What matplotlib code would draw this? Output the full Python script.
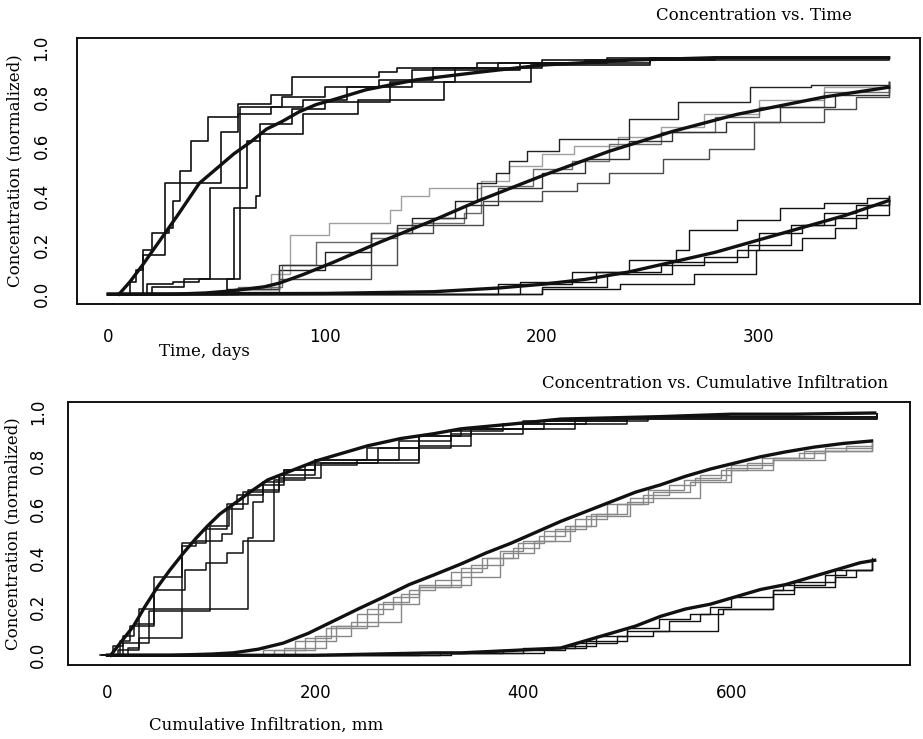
import matplotlib.pyplot as plt

# ---- top panel: concentration vs time (days) ----
# smooth model curves
time_fast_x = [5, 10, 16, 24, 32, 42, 50, 58, 66, 73, 80, 88, 96, 104, 119, 142, 170, 200, 240, 280, 320, 360]
time_fast_y = [0, 0.05, 0.12, 0.22, 0.32, 0.45, 0.51, 0.57, 0.62, 0.67, 0.70, 0.74, 0.77, 0.79, 0.83, 0.87, 0.90, 0.93, 0.95, 0.96, 0.96, 0.96]
time_mid_x = [0, 30, 45, 55, 65, 72, 79, 90, 104, 125, 150, 171, 200, 231, 260, 290, 330, 360]
time_mid_y = [0, 0, 0.005, 0.012, 0.022, 0.03, 0.045, 0.08, 0.13, 0.21, 0.30, 0.38, 0.48, 0.58, 0.66, 0.73, 0.80, 0.84]
time_slow_x = [0, 100, 150, 180, 200, 220, 240, 260, 280, 300, 320, 340, 360]
time_slow_y = [0, 0.003, 0.01, 0.025, 0.04, 0.06, 0.09, 0.13, 0.17, 0.22, 0.27, 0.32, 0.38]

# stepped realizations (x = jump positions, y = level after jump)
time_fast_steps_x = [
    [5, 10, 13, 16, 20, 28, 30, 33, 38, 46, 60, 75, 85, 125, 133, 170, 220, 280, 360],
    [3, 16, 26, 52, 60, 75, 90, 110, 140, 190, 250, 360],
    [5, 20, 35, 47, 64, 70, 85, 100, 130, 160, 200, 360],
    [3, 55, 58, 68, 70, 90, 115, 155, 195, 250, 360],
    [5, 18, 30, 42, 61, 80, 100, 125, 150, 180, 230, 360],
]
time_fast_steps_y = [
    [0, 0.05, 0.10, 0.18, 0.25, 0.27, 0.38, 0.50, 0.62, 0.72, 0.77, 0.81, 0.88, 0.90, 0.92, 0.94, 0.95, 0.96, 0.96],
    [0, 0.16, 0.45, 0.66, 0.73, 0.76, 0.79, 0.84, 0.91, 0.94, 0.96, 0.96],
    [0, 0.03, 0.06, 0.43, 0.62, 0.69, 0.75, 0.78, 0.86, 0.92, 0.95, 0.96],
    [0, 0.06, 0.35, 0.40, 0.65, 0.73, 0.79, 0.86, 0.93, 0.96, 0.96],
    [0, 0.04, 0.05, 0.06, 0.76, 0.80, 0.84, 0.87, 0.92, 0.94, 0.96, 0.96],
]
time_mid_steps_x = [
    [0, 60, 75, 84, 102, 130, 135, 148, 172, 185, 200, 215, 235, 255, 275, 300, 330, 360],
    [0, 55, 79, 100, 121, 140, 160, 170, 179, 185, 193, 208, 240, 263, 296, 324, 360],
    [0, 60, 80, 96, 121, 133, 140, 164, 172, 196, 214, 231, 255, 280, 300, 330, 360],
    [0, 60, 79, 121, 133, 150, 165, 180, 200, 220, 240, 260, 285, 310, 335, 360],
    [0, 55, 79, 121, 133, 150, 173, 200, 216, 231, 256, 277, 298, 330, 345, 360],
]
time_mid_steps_y = [
    [0, 0.02, 0.08, 0.24, 0.29, 0.34, 0.40, 0.43, 0.46, 0.52, 0.57, 0.60, 0.64, 0.68, 0.73, 0.79, 0.84, 0.86],
    [0, 0.02, 0.10, 0.17, 0.25, 0.31, 0.38, 0.45, 0.49, 0.54, 0.58, 0.63, 0.71, 0.78, 0.84, 0.85, 0.86],
    [0, 0.03, 0.12, 0.21, 0.23, 0.27, 0.29, 0.33, 0.44, 0.51, 0.54, 0.61, 0.66, 0.72, 0.76, 0.82, 0.86],
    [0, 0.02, 0.12, 0.25, 0.28, 0.31, 0.36, 0.43, 0.49, 0.55, 0.62, 0.66, 0.70, 0.76, 0.81, 0.86],
    [0, 0.01, 0.06, 0.12, 0.25, 0.28, 0.38, 0.42, 0.45, 0.49, 0.55, 0.59, 0.70, 0.75, 0.80, 0.86],
]
time_mid_steps_grey = ['#a0a0a0', '#222222', '#6a6a6a', '#333333', '#4a4a4a']
time_slow_steps_x = [
    [0, 140, 180, 214, 240, 262, 268, 290, 310, 330, 350, 360],
    [0, 150, 200, 236, 270, 299, 320, 335, 345, 360],
    [0, 140, 190, 225, 255, 275, 295, 315, 330, 345, 360],
    [0, 150, 200, 230, 260, 290, 300, 320, 335, 350, 360],
]
time_slow_steps_y = [
    [0, 0.0, 0.04, 0.09, 0.14, 0.18, 0.26, 0.30, 0.35, 0.37, 0.39, 0.40],
    [0, 0.0, 0.02, 0.04, 0.08, 0.18, 0.23, 0.27, 0.32, 0.38],
    [0, 0.0, 0.05, 0.09, 0.12, 0.15, 0.20, 0.28, 0.33, 0.36, 0.39],
    [0, 0.0, 0.03, 0.08, 0.13, 0.18, 0.25, 0.28, 0.31, 0.36, 0.40],
]

# ---- bottom panel: concentration vs cumulative infiltration (mm) ----
infil_fast_x = [3, 14, 25, 36, 48, 60, 73, 85, 96, 108, 121, 137, 154, 178, 202, 226, 250, 282, 314, 340, 390, 436, 484, 532, 600, 660, 738]
infil_fast_y = [0, 0.06, 0.12, 0.20, 0.28, 0.35, 0.42, 0.48, 0.53, 0.58, 0.62, 0.67, 0.72, 0.76, 0.80, 0.83, 0.86, 0.89, 0.91, 0.93, 0.95, 0.97, 0.975, 0.98, 0.99, 0.99, 0.995]
infil_mid_x = [0, 60, 100, 121, 145, 169, 193, 217, 241, 266, 290, 314, 340, 364, 388, 412, 436, 460, 484, 508, 532, 556, 580, 604, 628, 652, 680, 708, 735]
infil_mid_y = [0, 0, 0.005, 0.01, 0.025, 0.05, 0.09, 0.14, 0.19, 0.24, 0.29, 0.33, 0.375, 0.42, 0.46, 0.505, 0.55, 0.59, 0.63, 0.67, 0.70, 0.735, 0.765, 0.79, 0.815, 0.835, 0.855, 0.87, 0.88]
infil_slow_x = [0, 200, 314, 340, 390, 436, 460, 484, 508, 532, 556, 580, 604, 628, 652, 676, 700, 724, 738]
infil_slow_y = [0, 0, 0.01, 0.01, 0.02, 0.03, 0.06, 0.09, 0.12, 0.16, 0.19, 0.21, 0.24, 0.27, 0.29, 0.32, 0.35, 0.38, 0.39]

infil_fast_steps_x = [
    [-7, 5, 15, 25, 45, 72, 95, 115, 125, 150, 170, 200, 250, 300, 350, 420, 520, 740],
    [-5, 10, 30, 135, 140, 150, 170, 200, 280, 300, 340, 400, 500, 740],
    [-5, 20, 30, 72, 85, 110, 120, 135, 165, 205, 260, 280, 330, 380, 460, 740],
    [-5, 15, 40, 99, 117, 130, 165, 200, 260, 330, 400, 500, 740],
    [-5, 12, 22, 45, 75, 95, 115, 130, 160, 190, 240, 300, 350, 450, 740],
]
infil_fast_steps_y = [
    [0, 0.04, 0.08, 0.13, 0.32, 0.46, 0.52, 0.62, 0.66, 0.71, 0.76, 0.80, 0.85, 0.90, 0.93, 0.96, 0.98, 0.99],
    [0, 0.02, 0.19, 0.48, 0.63, 0.70, 0.76, 0.79, 0.79, 0.90, 0.93, 0.96, 0.98, 0.99],
    [0, 0.03, 0.07, 0.45, 0.47, 0.50, 0.62, 0.68, 0.73, 0.79, 0.80, 0.88, 0.92, 0.95, 0.97, 0.99],
    [0, 0.05, 0.18, 0.53, 0.60, 0.67, 0.74, 0.80, 0.85, 0.91, 0.95, 0.98, 0.99],
    [0, 0.06, 0.12, 0.27, 0.35, 0.38, 0.42, 0.47, 0.72, 0.78, 0.80, 0.86, 0.93, 0.97, 0.99],
]
infil_mid_steps_x = [
    [0, 150, 190, 215, 240, 265, 290, 315, 340, 365, 390, 415, 440, 465, 490, 515, 540, 565, 590, 615, 640, 665, 690, 735],
    [0, 160, 200, 234, 282, 300, 340, 378, 400, 430, 460, 503, 570, 600, 640, 680, 735],
    [0, 170, 210, 250, 275, 300, 330, 360, 395, 420, 450, 480, 520, 555, 595, 630, 670, 710, 735],
    [0, 180, 220, 260, 300, 350, 380, 410, 445, 470, 500, 525, 560, 600, 640, 690, 735],
]
infil_mid_steps_y = [
    [0, 0.02, 0.07, 0.12, 0.17, 0.22, 0.27, 0.31, 0.36, 0.40, 0.44, 0.49, 0.53, 0.58, 0.62, 0.66, 0.70, 0.73, 0.76, 0.79, 0.81, 0.83, 0.85, 0.87],
    [0, 0.02, 0.08, 0.136, 0.25, 0.28, 0.32, 0.43, 0.47, 0.52, 0.57, 0.645, 0.74, 0.78, 0.81, 0.84, 0.87],
    [0, 0.03, 0.11, 0.19, 0.24, 0.28, 0.34, 0.40, 0.46, 0.51, 0.56, 0.62, 0.68, 0.72, 0.77, 0.81, 0.84, 0.86, 0.87],
    [0, 0.06, 0.12, 0.21, 0.29, 0.37, 0.42, 0.47, 0.53, 0.58, 0.63, 0.67, 0.71, 0.76, 0.80, 0.84, 0.86],
]
infil_slow_steps_x = [
    [0, 300, 380, 440, 470, 500, 530, 560, 580, 600, 640, 660, 700, 735],
    [0, 320, 400, 450, 490, 525, 587, 640, 660, 700, 720, 735],
    [0, 330, 420, 460, 500, 540, 570, 592, 640, 650, 690, 710, 735],
]
infil_slow_steps_y = [
    [0, 0.01, 0.02, 0.04, 0.08, 0.11, 0.15, 0.17, 0.20, 0.24, 0.27, 0.30, 0.35, 0.40],
    [0, 0.01, 0.03, 0.05, 0.08, 0.10, 0.19, 0.25, 0.28, 0.32, 0.35, 0.38],
    [0, 0.01, 0.03, 0.06, 0.10, 0.14, 0.17, 0.19, 0.27, 0.29, 0.33, 0.35, 0.39],
]

time_ticks = [0, 100, 200, 300]
infil_ticks = [0, 200, 400, 600]
conc_ticks = [0.0, 0.2, 0.4, 0.6, 0.8, 1.0]

serif = 'DejaVu Serif'
ink = '#111111'

fig = plt.figure(figsize=(9.23, 7.39), dpi=100)
ax1 = fig.add_axes([0.0834, 0.5886, 0.9133, 0.36])
ax2 = fig.add_axes([0.0737, 0.1001, 0.9123, 0.3559])


def style(ax, xlim, xticks, xpad, ypad):
    ax.set_xlim(*xlim)
    ax.set_ylim(-0.04, 1.04)
    ax.set_xticks(xticks)
    ax.set_xticklabels([str(t) for t in xticks])
    ax.set_yticks(conc_ticks)
    ax.set_yticklabels(['%.1f' % v for v in conc_ticks], rotation=90, va='center')
    ax.tick_params(axis='x', length=0, pad=xpad, labelsize=12)
    ax.tick_params(axis='y', length=0, pad=ypad, labelsize=12)
    for s in ax.spines.values():
        s.set_linewidth(1.4)
        s.set_color(ink)


def draw_steps(ax, xs_list, ys_list, colors=None, lw=1.0):
    for i, (xs, ys) in enumerate(zip(xs_list, ys_list)):
        c = colors[i] if colors else ink
        ax.step(xs, ys, where='post', color=c, lw=lw)


# top panel
draw_steps(ax1, time_fast_steps_x, time_fast_steps_y, lw=1.2)
draw_steps(ax1, time_mid_steps_x, time_mid_steps_y, colors=time_mid_steps_grey, lw=1.0)
draw_steps(ax1, time_slow_steps_x, time_slow_steps_y, lw=1.0)
for xs, ys in [(time_fast_x, time_fast_y), (time_mid_x, time_mid_y), (time_slow_x, time_slow_y)]:
    ax1.plot(xs, ys, color=ink, lw=2.4)
style(ax1, (-14.4, 374.4), time_ticks, 17, 19)
ax1.set_ylabel('Concentration (normalized)', family=serif, fontsize=12)
ax1.yaxis.set_label_coords(-0.063, 0.5)

# bottom panel
draw_steps(ax2, infil_fast_steps_x, infil_fast_steps_y, lw=1.1)
draw_steps(ax2, infil_mid_steps_x, infil_mid_steps_y, colors=['#888888'] * 4, lw=1.0)
draw_steps(ax2, infil_slow_steps_x, infil_slow_steps_y, lw=1.0)
for xs, ys in [(infil_fast_x, infil_fast_y), (infil_mid_x, infil_mid_y), (infil_slow_x, infil_slow_y)]:
    ax2.plot(xs, ys, color=ink, lw=2.4)
style(ax2, (-38, 772), infil_ticks, 14, 15)
ax2.set_ylabel('Concentration (normalized)', family=serif, fontsize=12)
ax2.yaxis.set_label_coords(-0.055, 0.5)

fig.text(852 / 923, 1 - 16 / 739, 'Concentration vs. Time', family=serif,
         fontsize=12, ha='right', va='center')
fig.text(204 / 923, 1 - 351 / 739, 'Time, days', family=serif,
         fontsize=12, ha='center', va='center')
fig.text(888 / 923, 1 - 383 / 739, 'Concentration vs. Cumulative Infiltration', family=serif,
         fontsize=12, ha='right', va='center')
fig.text(266 / 923, 1 - 725 / 739, 'Cumulative Infiltration, mm', family=serif,
         fontsize=12, ha='center', va='center')

fig.savefig('out.png', dpi=100)
